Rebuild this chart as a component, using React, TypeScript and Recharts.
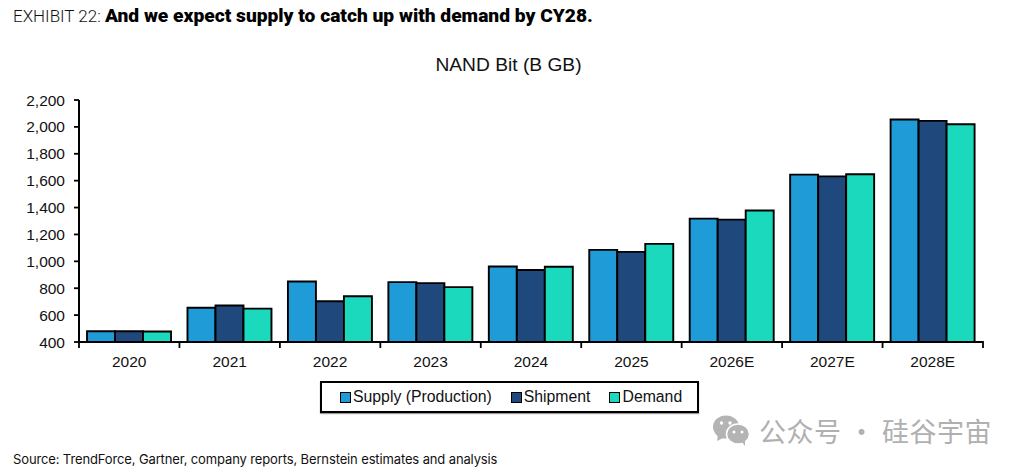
import { BarChart, Bar, XAxis, YAxis, Legend } from "recharts";

const years = ["2020", "2021", "2022", "2023", "2024", "2025", "2026E", "2027E", "2028E"];
const supply = [480, 655, 850, 845, 962, 1085, 1318, 1645, 2055];
const shipment = [480, 672, 703, 838, 935, 1070, 1310, 1632, 2045];
const demand = [478, 648, 740, 808, 960, 1130, 1378, 1648, 2020];
const yTicks = [400, 600, 800, 1000, 1200, 1400, 1600, 1800, 2000, 2200];

const chartData = years.map((year, i) => ({
  year,
  supply: supply[i],
  shipment: shipment[i],
  demand: demand[i],
}));

const PLOT_LEFT = 79;
const PLOT_RIGHT = 983;
const BAND = (PLOT_RIGHT - PLOT_LEFT) / years.length;
const CHART_FONT = '"Liberation Sans", Arial, sans-serif';

function YearTick({ x, y, payload, index }: any) {
  const left = x - BAND / 2;
  return (
    <g>
      <line x1={left} x2={left} y1={y - 1} y2={y + 6} stroke="#000" strokeWidth={1.8} />
      {index === years.length - 1 && (
        <line x1={left + BAND} x2={left + BAND} y1={y - 1} y2={y + 6} stroke="#000" strokeWidth={1.8} />
      )}
      <text x={x} y={y + 25} textAnchor="middle" fontSize={15.5} fontFamily={CHART_FONT} fill="#111">
        {payload.value}
      </text>
    </g>
  );
}

function LegendBox({ payload }: any) {
  return (
    <div
      style={{
        boxSizing: "border-box",
        width: 379,
        height: 32,
        border: "2px solid #000",
        boxShadow: "0 1px 1px #999",
        background: "#fff",
        display: "flex",
        alignItems: "center",
        paddingLeft: 18,
        fontFamily: CHART_FONT,
        fontSize: 15.8,
        color: "#111",
        whiteSpace: "nowrap",
      }}
    >
      {payload.map((item: any) => (
        <span key={item.value} style={{ display: "flex", alignItems: "center", marginRight: 19 }}>
          <span
            style={{
              boxSizing: "border-box",
              width: 11,
              height: 11,
              marginRight: 2,
              border: "1.5px solid #000",
              background: item.color,
            }}
          />
          {item.value}
        </span>
      ))}
    </div>
  );
}

function WeChatMark() {
  return (
    <svg width={40} height={34} style={{ position: "absolute", left: 712, top: 413 }}>
      <ellipse cx={14} cy={14} rx={13} ry={11.5} fill="#b4b4b4" />
      <path d="M6 21 L5 28 L13 24 Z" fill="#b4b4b4" />
      <ellipse cx={26} cy={21} rx={11.5} ry={10} fill="#b4b4b4" stroke="#fff" strokeWidth={1.5} />
      <path d="M30 29 L33 33 L33 27 Z" fill="#b4b4b4" />
      <circle cx={9.5} cy={10} r={1.7} fill="#fff" />
      <circle cx={18} cy={10} r={1.7} fill="#fff" />
      <circle cx={22} cy={19} r={1.5} fill="#fff" />
      <circle cx={30} cy={19} r={1.5} fill="#fff" />
    </svg>
  );
}

export default function App() {
  return (
    <div style={{ position: "fixed", left: 0, top: 0, width: 1024, height: 472, background: "#fff", overflow: "hidden" }}>
      <div
        style={{
          position: "absolute",
          left: 13,
          top: 4,
          fontFamily: "Roboto, sans-serif",
          lineHeight: "24px",
          color: "#111",
          whiteSpace: "nowrap",
        }}
      >
        <span style={{ fontWeight: 300, fontSize: 17 }}>EXHIBIT 22: </span>
        <span style={{ fontWeight: 900, fontSize: 19.2, color: "#000" }}>
          And we expect supply to catch up with demand by CY28.
        </span>
      </div>
      <div
        style={{
          position: "absolute",
          left: 0,
          width: 1017,
          top: 53,
          textAlign: "center",
          fontFamily: CHART_FONT,
          fontSize: 19.2,
          lineHeight: "24px",
          color: "#111",
        }}
      >
        NAND Bit (B GB)
      </div>

      <BarChart
        width={1024}
        height={472}
        data={chartData}
        barGap={0}
        barCategoryGap="8%"
        margin={{ top: 100, right: 1024 - PLOT_RIGHT, left: 0, bottom: 38 }}
      >
        <XAxis
          dataKey="year"
          interval={0}
          height={60}
          tick={YearTick}
          tickLine={false}
          tickSize={0}
          tickMargin={0}
          axisLine={{ stroke: "#000", strokeWidth: 2 }}
        />
        <YAxis
          domain={[400, 2200]}
          ticks={yTicks}
          interval={0}
          width={PLOT_LEFT}
          tickSize={5}
          tickMargin={9}
          tickFormatter={(v: number) => v.toLocaleString("en-US")}
          tick={{ fontSize: 15.5, fontFamily: CHART_FONT, fill: "#111" }}
          tickLine={{ stroke: "#000", strokeWidth: 1.8 }}
          axisLine={{ stroke: "#000", strokeWidth: 2 }}
        />
        <Legend
          content={LegendBox}
          itemSorter={null}
          wrapperStyle={{ position: "absolute", left: 320, top: 381, width: 379, bottom: "auto" }}
        />
        <Bar dataKey="supply" name="Supply (Production)" fill="#1f9bd7" stroke="#000" strokeWidth={1.9} isAnimationActive={false} />
        <Bar dataKey="shipment" name="Shipment" fill="#1f487c" stroke="#000" strokeWidth={1.9} isAnimationActive={false} />
        <Bar dataKey="demand" name="Demand" fill="#1bd9bc" stroke="#000" strokeWidth={1.9} isAnimationActive={false} />
      </BarChart>

      <WeChatMark />
      <div
        style={{
          position: "absolute",
          left: 759,
          top: 414,
          fontFamily: '"Noto Sans CJK SC", sans-serif',
          fontSize: 27,
          lineHeight: "34px",
          letterSpacing: 0.5,
          color: "#b0b0b0",
          whiteSpace: "nowrap",
        }}
      >
        公众号 · 硅谷宇宙
      </div>
      <div
        style={{
          position: "absolute",
          left: 13,
          top: 450,
          fontFamily: "Inter, sans-serif",
          fontSize: 13,
          lineHeight: "18px",
          letterSpacing: -0.13,
          color: "#111",
          whiteSpace: "nowrap",
        }}
      >
        Source: TrendForce, Gartner, company reports, Bernstein estimates and analysis
      </div>
    </div>
  );
}
